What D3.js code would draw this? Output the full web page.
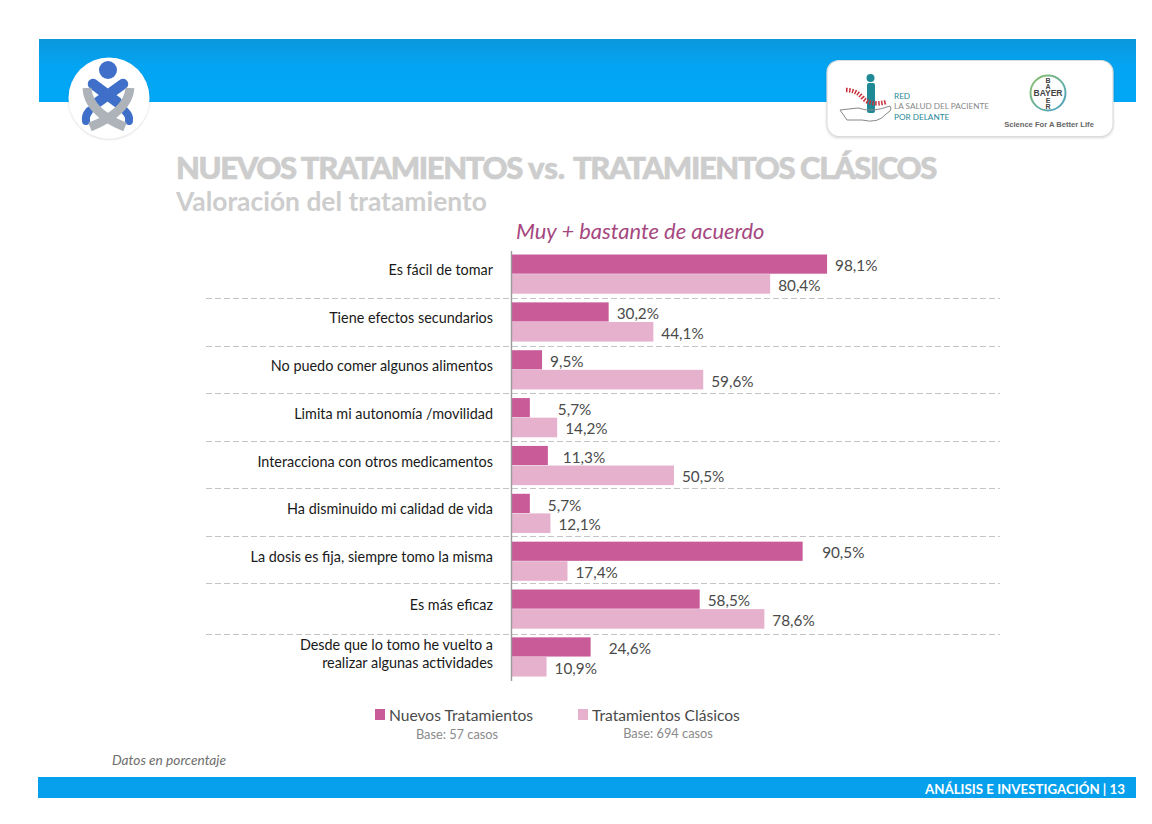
<!DOCTYPE html>
<html><head><meta charset="utf-8">
<script src="https://cdn.jsdelivr.net/npm/d3@7/dist/d3.min.js"></script>
<style>html,body{margin:0;padding:0;background:#fff}svg{display:block}text{font-family:Lato,"Open Sans",sans-serif}</style>
</head><body><svg id="c" width="1152" height="824"></svg>
<script>
const categories = ["Es fácil de tomar","Tiene efectos secundarios","No puedo comer algunos alimentos","Limita mi autonomía /movilidad","Interacciona con otros medicamentos","Ha disminuido mi calidad de vida","La dosis es fija, siempre tomo la misma","Es más eficaz","Desde que lo tomo he vuelto a|realizar algunas actividades"];
const nuevos = [98.1,30.2,9.5,5.7,11.3,5.7,90.5,58.5,24.6];
const clasicos = [80.4,44.1,59.6,14.2,50.5,12.1,17.4,78.6,10.9];
const seriesNames = ["Nuevos Tratamientos","Tratamientos Clásicos"];
const seriesBases = ["Base: 57 casos","Base: 694 casos"];

const svg = d3.select("#c");
const defs = svg.append("defs");
const g = defs.append("linearGradient").attr("id","hdr").attr("x1",0).attr("x2",0).attr("y1",0).attr("y2",1);
g.append("stop").attr("offset","0%").attr("stop-color","#0b97dc");
g.append("stop").attr("offset","45%").attr("stop-color","#03a5f3");
g.append("stop").attr("offset","100%").attr("stop-color","#00a7f7");
const f = defs.append("filter").attr("id","sh").attr("x","-20%").attr("y","-20%").attr("width","140%").attr("height","140%");
f.append("feDropShadow").attr("dx",0).attr("dy",1).attr("stdDeviation",1.2).attr("flood-color","#000").attr("flood-opacity",.16);
const bg = defs.append("linearGradient").attr("id","ring").attr("x1",0).attr("x2",1).attr("y1",0).attr("y2",1);
bg.append("stop").attr("offset","0%").attr("stop-color","#8cc06a");
bg.append("stop").attr("offset","100%").attr("stop-color","#4aa0c8");

// Header and footer
svg.append("rect").attr("x",39).attr("y",39).attr("width",1097).attr("height",63).attr("fill","url(#hdr)");
svg.append("rect").attr("x",38).attr("y",777).attr("width",1098).attr("height",21).attr("fill","#06a0ec");
svg.append("text").attr("x",1125).attr("y",794).attr("text-anchor","end").attr("fill","#fff").attr("font-size",13.3).attr("font-weight",700).text("ANÁLISIS E INVESTIGACIÓN | 13");

// Left emblem
const em = svg.append("g");
const blue = "#3f6fc9", grey = "#adb3b8";
em.append("circle").attr("cx",109).attr("cy",98).attr("r",40.5).attr("fill","#fff").attr("filter","url(#sh)");
em.append("circle").attr("cx",108).attr("cy",70).attr("r",9).attr("fill",blue);
em.append("path").attr("d","M93 84 L117 102 M123 84 L98 102").attr("stroke",blue).attr("stroke-width",10.5).attr("stroke-linecap","round").attr("fill","none");
em.append("path").attr("d","M89 111 Q85 116 86 121 M125 111 Q130 116 129 121").attr("stroke",blue).attr("stroke-width",8).attr("stroke-linecap","round").attr("fill","none");
em.append("path").attr("d","M87 88 Q88 112 125 127 M130 88 Q128 112 90 127").attr("stroke",grey).attr("stroke-width",9).attr("fill","none");

// Right logo box
const lb = svg.append("g");
lb.append("rect").attr("x",827).attr("y",60.5).attr("width",286).attr("height",76).attr("rx",12).attr("fill","#fff").attr("stroke","#dcdcdc").attr("stroke-width",1.2).attr("filter","url(#sh)");
lb.append("circle").attr("cx",870.5).attr("cy",78).attr("r",4).attr("fill","#1f8a96");
lb.append("rect").attr("x",867).attr("y",83).attr("width",8).attr("height",30).attr("rx",2).attr("fill","#1f8a96");
lb.append("path").attr("d","M846 90 Q856 90 863 98 T886 102").attr("stroke","#c8323c").attr("stroke-width",4.5).attr("stroke-dasharray","1.5 1.5").attr("fill","none");
lb.append("path").attr("d","M840 110 L858 108 Q872 113 890 106 Q893 110 886 114 Q878 124 862 120 L847 120 Z").attr("stroke","#888").attr("stroke-width",1).attr("fill","none");
[["RED",99,"#1f8a96"],["LA SALUD DEL PACIENTE",109,"#888"],["POR DELANTE",120,"#1f8a96"]].forEach(d=>{
  lb.append("text").attr("x",894).attr("y",d[1]).attr("font-size",8.2).attr("fill",d[2]).text(d[0]);
});
lb.append("circle").attr("cx",1048).attr("cy",93).attr("r",17.5).attr("fill","#fff").attr("stroke","url(#ring)").attr("stroke-width",2);
lb.append("text").attr("x",1048).attr("y",96).attr("text-anchor","middle").attr("font-size",8.5).attr("font-weight",700).attr("fill","#444").style("font-family","Liberation Sans").text("BAYER");
[["B",83],["A",89],["E",103],["R",109]].forEach(d=>{ lb.append("text").attr("x",1048).attr("y",d[1]).attr("text-anchor","middle").attr("font-size",7).attr("font-weight",700).attr("fill","#444").style("font-family","Liberation Sans").text(d[0]); });
lb.append("text").attr("x",1049).attr("y",127).attr("text-anchor","middle").attr("font-size",7.6).attr("font-weight",700).attr("fill","#666").style("font-family","Liberation Sans").text("Science For A Better Life");

// Titles
const t = svg.append("text").attr("x",176).attr("y",179).attr("fill","#cdcdcd").attr("stroke","#cdcdcd").attr("stroke-width",.6).attr("font-weight",900).attr("font-size",31).attr("letter-spacing",-1.38);
t.append("tspan").text("NUEVOS TRATAMIENTOS");
t.append("tspan").attr("x",528).attr("letter-spacing",0).text("vs.");
t.append("tspan").attr("x",573).text("TRATAMIENTOS CLÁSICOS");
svg.append("text").attr("x",176).attr("y",211).attr("fill","#cdcdcd").attr("font-weight",700).attr("font-size",26.4).text("Valoración del tratamiento");
svg.append("text").attr("x",516).attr("y",239).attr("fill","#a5487f").attr("font-style","italic").attr("font-size",21.9).text("Muy + bastante de acuerdo");

// Chart
const x = d3.scaleLinear().domain([0,100]).range([511.5,833.2]);
const y = d3.scaleBand().domain(categories).range([250.2,680.85]).paddingInner(0.181).paddingOuter(0.09);
const inner = d3.scaleBand().domain([0,1]).range([0,y.bandwidth()]);
const colors = ["#c95b99","#e6b1cd"];
const series = [nuevos, clasicos];
// Manual label gaps seen in the source, per series and category
const gapOverride = {"0-3":28,"0-4":15,"0-5":18,"0-6":19.5,"0-8":18};

series.forEach((vals,s)=>{
  svg.append("g").selectAll("rect").data(vals).join("rect")
    .attr("x",x(0)).attr("y",(d,i)=>y(categories[i])+inner(s))
    .attr("width",d=>x(d)-x(0)).attr("height",inner.bandwidth()-(s===0?0.4:0)).attr("fill",colors[s]);
  svg.append("g").selectAll("text").data(vals).join("text")
    .attr("x",(d,i)=>x(d)+(gapOverride[s+"-"+i]??8))
    .attr("y",(d,i)=>y(categories[i])+inner(s)+inner.bandwidth()/2+7)
    .attr("font-size",15.3).attr("fill","#4a4a4a")
    .text(d=>d.toFixed(1).replace(".",",")+"%");
});

// Separators sit between groups, with small drifts taken from the source
const sepDrift = [0,0,-.5,-.6,-1.4,-1.2,-2,1];
svg.append("g").selectAll("line").data(categories.slice(0,-1)).join("line")
  .attr("x1",206).attr("x2",1000)
  .attr("y1",(d,i)=>Math.round(y(d)+y.bandwidth()+y.step()*y.paddingInner()/2+sepDrift[i])+.5)
  .attr("y2",(d,i)=>Math.round(y(d)+y.bandwidth()+y.step()*y.paddingInner()/2+sepDrift[i])+.5)
  .attr("stroke","#c4c4c4").attr("stroke-dasharray","6 3");

// Axis line
svg.append("line").attr("x1",x(0)).attr("x2",x(0)).attr("y1",251).attr("y2",681).attr("stroke","#9a9a9a").attr("stroke-width",1.4);

// Category labels
categories.forEach(c=>{
  const parts = c.split("|");
  const cy = y(c)+y.bandwidth()/2;
  parts.forEach((p,i)=>{
    svg.append("text").attr("x",493).attr("y",parts.length>1 ? cy+2-9+i*18 : cy+1)
      .attr("text-anchor","end").attr("font-size",14.4).attr("fill","#1a1a1a").text(p);
  });
});

// Legend
[[375,389,457],[578,592,668]].forEach((p,i)=>{
  svg.append("rect").attr("x",p[0]).attr("y",709).attr("width",10).attr("height",11).attr("fill",colors[i]);
  svg.append("text").attr("x",p[1]).attr("y",721).attr("font-size",15.6).attr("fill","#4a4a4a").text(seriesNames[i]);
  svg.append("text").attr("x",p[2]).attr("y",[739,738][i]).attr("text-anchor","middle").attr("font-size",12.8).attr("fill","#8a8a8a").text(seriesBases[i]);
});
svg.append("text").attr("x",112).attr("y",765).attr("font-size",13.7).attr("font-style","italic").attr("fill","#6e6e6e").text("Datos en porcentaje");
</script></body></html>
